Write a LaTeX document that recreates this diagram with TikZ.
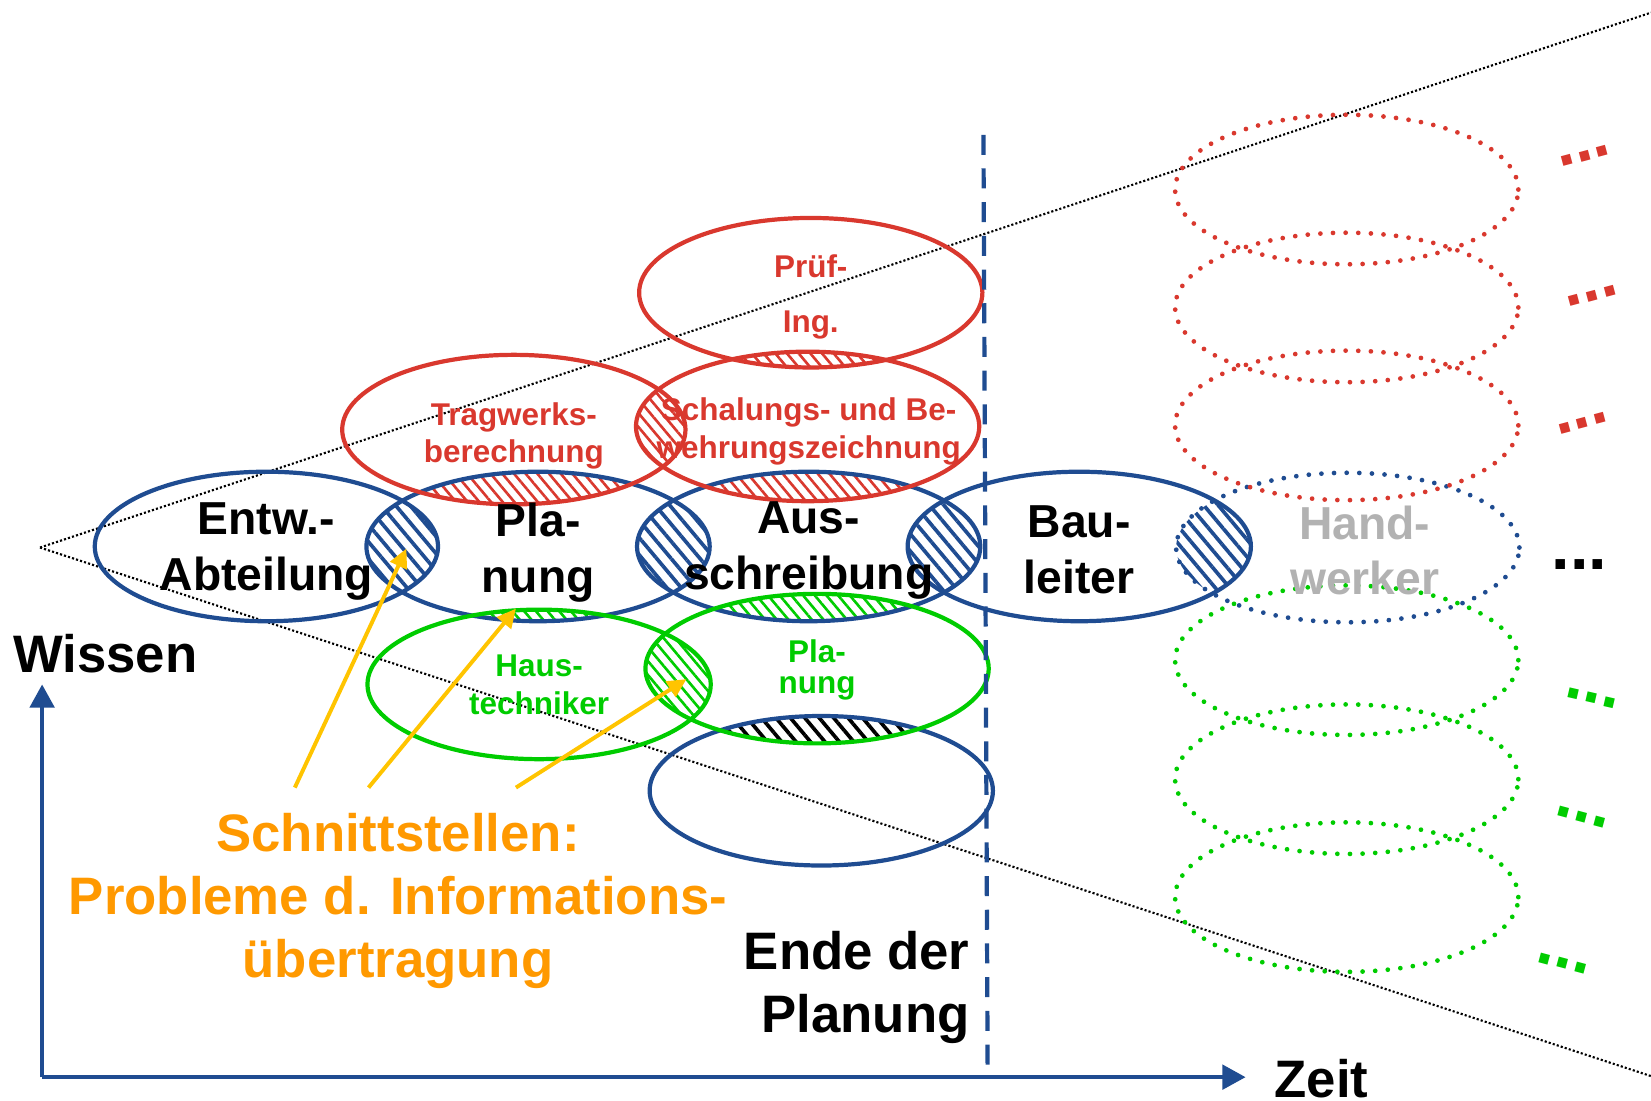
\documentclass[tikz,border=0pt]{standalone}
\usepackage{fontspec}
\setmainfont{Liberation Sans}
\usetikzlibrary{shapes.geometric,arrows.meta,patterns.meta,backgrounds}
\definecolor{kblue}{RGB}{31,76,145}
\definecolor{kred}{RGB}{217,56,46}
\definecolor{kgreen}{RGB}{0,204,0}
\definecolor{korange}{RGB}{255,153,0}
\definecolor{kyellow}{RGB}{255,196,0}
\definecolor{kgray}{RGB}{178,178,178}
\newcommand{\lens}[3]{%
  \begin{scope}
    \clip (#1) ellipse [x radius=163, y radius=71];
    \fill[#3] (#2) ellipse [x radius=163, y radius=71];
  \end{scope}}
\begin{document}
\begin{tikzpicture}[
       x=0.2mm, y=-0.2mm,
       ell/.style={ellipse, draw=#1, line width=0.8mm, minimum width=65.2mm, minimum height=28.4mm, inner sep=0pt},
       dotell/.style={ell=#1, line width=0.9mm, dash pattern=on 0pt off 2.4mm, line cap=round},
       big/.style={font=\fontsize{25}{30}\selectfont\bfseries, align=center},
       small/.style={font=\fontsize{17}{20.5}\selectfont\bfseries, align=center},
       large/.style={font=\fontsize{28.5}{34}\selectfont\bfseries, align=center},
       more/.style={font=\fontsize{36}{36}\selectfont\bfseries, inner sep=0pt},
       hatch/.style={pattern={Lines[angle=-50, distance=2.1mm, line width=0.7mm]}, pattern color=#1},
       finehatch/.style={pattern={Lines[angle=-50, distance=1.7mm, line width=0.5mm]}, pattern color=#1},
       cone/.style={line width=0.4mm, dash pattern=on 0.4mm off 0.4mm},
       axis/.style={kblue, line width=0.8mm, -{Triangle[length=4.4mm, width=4.6mm]}},
       pointer/.style={kyellow, line width=0.75mm, -{Triangle[length=3.6mm, width=3.4mm]}}
   ]
   \useasboundingbox (0,0) rectangle (1568,1045);

   \coordinate (apex) at (38,520);
   \coordinate (conetop) at (1568,12);
   \coordinate (conebot) at (1568,1022);
   \draw[cone] (apex) -- (conetop);
   \draw[cone] (apex) -- (conebot);

   \node[ell=kblue] (entw) at (253,519) {};
   \node[ell=kblue] (plan) at (511,519) {};
   \node[ell=kblue] (aus) at (768,519) {};
   \node[ell=kblue] (bau) at (1025,519) {};
   \node[dotell=kblue] (hand) at (1280,520) {};
   \node[ell=kblue] (bot) at (780,751) {};
   \node[ell=kred] (pruef) at (770,278) {};
   \node[ell=kred] (schal) at (767,405) {};
   \node[ell=kred] (trag) at (488,408) {};
   \node[ell=kgreen] (haus) at (512,650) {};
   \node[ell=kgreen] (gplan) at (776,635) {};

   \node[dotell=kred] (rdot1) at (1279,180) {};
   \node[dotell=kred] (rdot2) at (1279,292) {};
   \node[dotell=kred] (rdot3) at (1279,404) {};
   \node[dotell=kgreen] (gdot1) at (1279,627) {};
   \node[dotell=kgreen] (gdot2) at (1279,740) {};
   \node[dotell=kgreen] (gdot3) at (1279,852) {};

   \begin{pgfonlayer}{background}
   \lens{entw}{plan}{hatch=kblue}
   \lens{plan}{aus}{hatch=kblue}
   \lens{aus}{bau}{hatch=kblue}
   \lens{bau}{hand}{hatch=kblue}
   \lens{trag}{plan}{finehatch=kred}
   \lens{trag}{schal}{finehatch=kred}
   \lens{pruef}{schal}{finehatch=kred}
   \lens{schal}{aus}{finehatch=kred}
   \lens{haus}{plan}{finehatch=kgreen}
   \lens{haus}{gplan}{finehatch=kgreen}
   \lens{gplan}{aus}{finehatch=kgreen}
   \lens{gplan}{bot}{hatch=black}
   \end{pgfonlayer}

   \node[big] (entwtxt) at (253,524) {Entw.-\\Abteilung};
   \node[big] (plantxt) at (511,525) {Pla-\\nung};
   \node[big] (austxt) at (768,523) {Aus-\\schreibung};
   \node[big] (bautxt) at (1025,522) {Bau-\\leiter};
   \node[big, text=kgray] (handtxt) at (1296,523) {Hand-\\werker};
   \node[small, text=kred] (tragtxt) at (488,414) {Tragwerks-\\berechnung};
   \node[small, text=kred, font=\fontsize{17}{29.5}\selectfont\bfseries] (pruetxt) at (770,282) {Prüf-\\Ing.};
   \node[small, text=kred] (schaltxt) at (768,410) {Schalungs- und Be-\\wehrungszeichnung};
   \node[small, text=kgreen] (haustxt) at (512,650) {Haus-\\techniker};
   \node[small, text=kgreen, font=\fontsize{17}{17}\selectfont\bfseries] (gplantxt) at (776,636) {Pla-\\nung};

   \node[large, text=korange] (schnitt) at (378,856) {Schnittstellen:\\Probleme d. Informations-\\übertragung};
   \node[large, align=right, anchor=east] (ende) at (927,938) {Ende der\\Planung};

   \coordinate (s1) at (280,748);
   \coordinate (s2) at (350,748);
   \coordinate (s3) at (490,748);
   \coordinate (t1) at (386,521);
   \coordinate (t2) at (490,578);
   \coordinate (t3) at (652,645);
   \draw[pointer] (s1) -- (t1);
   \draw[pointer] (s2) -- (t2);
   \draw[pointer] (s3) -- (t3);

   \coordinate (dashtop) at (934,128);
   \coordinate (dashbot) at (938,1022);
   \draw[kblue, line width=0.8mm, dash pattern=on 3.8mm off 2.6mm] (dashtop) -- (dashbot);

   \coordinate (origin) at (40,1023);
   \coordinate (ytip) at (40,650);
   \coordinate (xtip) at (1183,1023);
   \draw[axis] (origin) -- (ytip);
   \draw[axis] (origin) -- (xtip);
   \node[large] (wissen) at (100,621) {Wissen};
   \node[large] (zeit) at (1255,1024) {Zeit};

   \node[more, text=kred, rotate=15] (rmore1) at (1505,148) {...};
   \node[more, text=kred, rotate=15] (rmore2) at (1512,281) {...};
   \node[more, text=kred, rotate=15] (rmore3) at (1503,402) {...};
   \node[more] (bmore) at (1500,536) {...};
   \node[more, text=kgreen, rotate=-13] (gmore1) at (1512,663) {...};
   \node[more, text=kgreen, rotate=-15] (gmore2) at (1502,776) {...};
   \node[more, text=kgreen, rotate=-15] (gmore3) at (1484,915) {...};
\end{tikzpicture}
\end{document}
